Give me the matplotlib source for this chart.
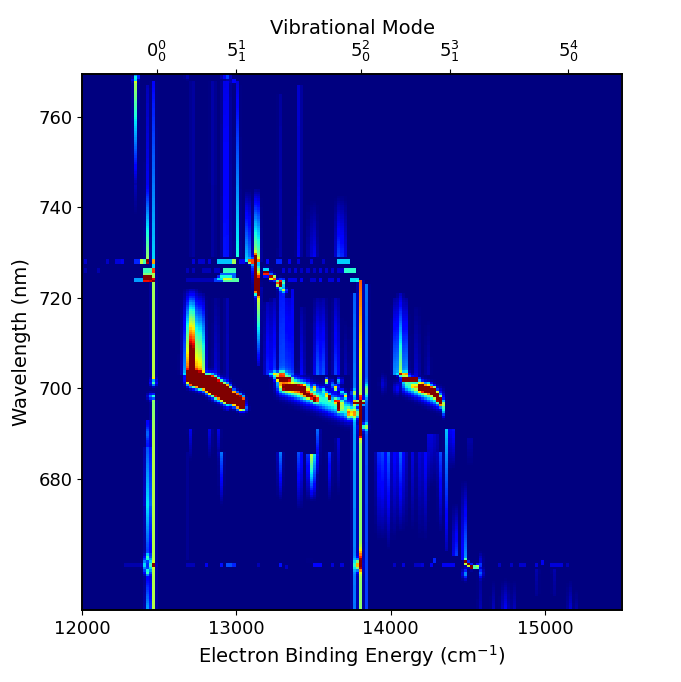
import numpy as np
import matplotlib
matplotlib.use("Agg")
import matplotlib.pyplot as plt

# ---- axes data
x_ticks = [12000, 13000, 14000, 15000]
y_ticks = [680, 700, 720, 740, 760]
mode_pos = [12483, 13001, 13806, 14383, 15150]
mode_labels = [r"$0^{0}_{0}$", r"$5^{1}_{1}$", r"$5^{2}_{0}$", r"$5^{3}_{1}$", r"$5^{4}_{0}$"]

# ---- vertical progressions:
# energy, wavelength low, wavelength high, amplitude at low, amplitude at high, width
bands = [
    # above the 728 nm threshold
    (12345, 745, 768, 0.03, 0.56, 8), (12345, 738, 745, 0.0, 0.05, 8), (12425, 728, 745, 0.55, 0.1, 8),
    (12425, 745, 767, 0.1, 0.05, 8), (12465, 724, 768, 0.36, 0.12, 8), (12717, 729, 768, 0.05, 0.05, 8),
    (12850, 729, 768, 0.03, 0.04, 12), (12925, 729, 768, 0.14, 0.09, 11), (12950, 729, 768, 0.13, 0.09, 9),
    (13005, 729, 745, 0.38, 0.26, 8), (13005, 745, 768, 0.26, 0.08, 8), (13074, 728, 744, 0.55, 0.0, 9),
    (13134, 728, 744, 0.8, 0.02, 12), (13283, 729, 765, 0.04, 0.03, 10), (13413, 729, 767, 0.12, 0.13, 7),
    (13400, 729, 745, 0.05, 0.0, 8), (13478, 729, 742, 0.1, 0.0, 9), (13510, 729, 742, 0.12, 0.0, 9),
    (13660, 729, 743, 0.22, 0.0, 10), (13692, 729, 743, 0.2, 0.0, 10),
    # between threshold and the red diagonals
    (12465, 702, 724, 0.58, 0.54, 8), (12465, 689, 697.5, 0.56, 0.5, 8),
    (12713, 703, 722, 1.55, 0.03, 26), (12775, 703, 721, 0.7, 0.02, 14), (12870, 697, 720, 0.1, 0.02, 14),
    (12940, 695, 720, 0.06, 0.05, 10), (13145, 705, 722.5, 0.05, 0.7, 8), (13205, 703, 719, 0.16, 0.05, 14),
    (13240, 703, 720, 0.2, 0.05, 10), (13295, 703, 722, 0.26, 0.18, 14), (13335, 703, 720, 0.24, 0.1, 11),
    (13362, 703, 722, 0.16, 0.1, 8), (13430, 703, 718, 0.12, 0.03, 11), (13525, 703, 720, 0.22, 0.03, 16),
    (13565, 703, 720, 0.2, 0.03, 14), (13650, 703, 720, 0.2, 0.05, 14), (13710, 703, 716, 0.06, 0.0, 10),
    (13805, 697, 724, 0.55, 0.82, 8), (13845, 693, 723, 0.2, 0.24, 8), (13765, 693, 721, 0.26, 0.22, 9),
    (14030, 703, 720, 0.3, 0.03, 11), (14065, 703, 721, 0.55, 0.05, 13), (14100, 703, 720, 0.32, 0.03, 10),
    (14170, 703, 718, 0.07, 0.01, 12), (14240, 703, 716, 0.05, 0.0, 12),
    # below the diagonals
    (12430, 674, 687, 0.38, 0.22, 13), (12430, 663, 674, 0.18, 0.38, 12), (12430, 651, 659, 0.32, 0.1, 12),
    (12430, 687, 693, 0.16, 0.12, 10), (12465, 650, 689, 0.56, 0.56, 8),
    (12705, 684, 691, 0.0, 0.1, 8), (12830, 684, 691, 0.0, 0.11, 8), (12888, 684, 691, 0.0, 0.1, 8),
    (12905, 674, 686, 0.0, 0.24, 9), (12690, 662, 686, 0.02, 0.02, 8), (13283, 675, 686, 0.0, 0.26, 10),
    (13413, 673, 686, 0.0, 0.28, 10), (13489, 675, 685.5, 0.0, 0.62, 15), (13530, 681, 691, 0.02, 0.3, 7),
    (13607, 675, 686, 0.0, 0.18, 9), (13660, 676, 689, 0.0, 0.1, 8), (13765, 650, 693, 0.24, 0.28, 9),
    (13805, 650, 692, 0.52, 0.52, 8), (13845, 650, 693, 0.18, 0.2, 7), (13925, 666, 686, 0.0, 0.16, 12),
    (13953, 666, 686, 0.0, 0.2, 11), (13985, 664, 686, 0.0, 0.22, 9), (14018, 666, 686, 0.0, 0.18, 8),
    (14061, 668, 686, 0.0, 0.24, 12), (14093, 668, 686, 0.0, 0.13, 9), (14147, 668, 686, 0.0, 0.09, 11),
    (14190, 666, 686, 0.0, 0.09, 10), (14223, 666, 686, 0.0, 0.13, 11), (14255, 678, 690, 0.0, 0.16, 9),
    (14294, 678, 690, 0.0, 0.15, 7), (14325, 668, 686, 0.0, 0.2, 10), (14365, 664, 691, 0.04, 0.32, 7),
    (14396, 682, 691, 0.0, 0.26, 8), (14417, 663, 675, 0.3, 0.0, 8), (14478, 662, 680, 0.38, 0.0, 9),
    (14515, 682, 689, 0.0, 0.1, 7), (14580, 650, 660, 0.06, 0.02, 8), (14743, 650, 658, 0.13, 0.0, 16),
    (14660, 650, 658, 0.08, 0.0, 7), (14800, 650, 658, 0.07, 0.0, 10), (15160, 650, 658, 0.1, 0.0, 10),
    (15200, 650, 656, 0.05, 0.0, 8), (14950, 654, 660, 0.02, 0.05, 8), (15060, 654, 660, 0.02, 0.05, 8),
]

# ---- ridges: energy0, wavelength0, energy1, wavelength1, amplitude, energy width, wavelength width
ridges = [
    (12715, 702.2, 12830, 700.9, 4.0, 19, 0.85), (12830, 700.9, 12940, 698.7, 4.0, 16, 1.05),
    (12940, 698.7, 13030, 696.8, 4.0, 12, 0.75), (13020, 695.9, 13050, 695.6, 0.36, 14, 0.5),
    (13125, 727.5, 13135, 722.5, 3.0, 9, 1.0), (13089, 728, 13125, 728, 0.85, 10, 0.3),
    (13186, 725.6, 13208, 725.6, 1.3, 7, 0.4), (13229, 724.6, 13240, 724.4, 1.3, 6, 0.35),
    (13273, 723.2, 13294, 723.2, 1.6, 7, 0.5), (13295, 722, 13315, 721.6, 0.45, 7, 0.35),
    (13262, 702.2, 13348, 702.2, 1.25, 9, 0.3), (13240, 703.1, 13300, 703.1, 0.5, 12, 0.4),
    (13316, 700.1, 13434, 700.1, 1.1, 10, 0.4), (13290, 701, 13450, 699.8, 0.42, 16, 1.1),
    (13300, 701, 13720, 695.2, 0.4, 26, 1.5), (13440, 699, 13520, 697.5, 0.55, 9, 0.5),
    (13769, 696.8, 13823, 696.8, 1.5, 7, 0.3), (13726, 694.5, 13790, 694.5, 0.45, 9, 0.7),
    (13805, 695.5, 13805, 690.5, 1.0, 7, 0.9), (13800, 691.5, 13850, 691.5, 0.4, 6, 0.5),
    (14083, 702, 14169, 702, 1.3, 8, 0.3), (14060, 703, 14110, 703, 0.5, 8, 0.35),
    (14180, 700.4, 14277, 699.4, 1.35, 8, 0.6), (14277, 699.4, 14335, 696.6, 1.5, 6, 0.5),
    (14100, 701, 14320, 697.5, 0.42, 16, 1.2), (14340, 696, 14350, 694.6, 0.34, 5, 0.6),
    (14482, 661.7, 14525, 660.6, 1.1, 5, 0.3),
]

# ---- isolated spots: energy, wavelength, amplitude, energy width, wavelength width
spots = [
    (12354, 769, 1.0, 6, 0.4), (12340, 768.3, 0.35, 9, 0.3), (12925, 769, 0.12, 15, 0.4),
    (12950, 769, 0.2, 10, 0.4), (12980, 768, 0.2, 8, 0.3), (12680, 769, 0.06, 8, 0.4),
    (12465, 701.3, 0.45, 12, 0.5), (12440, 698.2, 0.28, 9, 0.5), (12465, 698.2, 0.38, 6, 0.4),
    (12430, 690, 0.14, 6, 1.0), (12410, 661, 0.4, 10, 0.9), (12445, 661, 0.4, 9, 0.9),
    (12427, 662.6, 0.42, 11, 0.45), (12427, 659.4, 0.42, 11, 0.45), (12465, 661, 0.7, 8, 0.28),
    (13789, 661, 0.72, 14, 0.8), (13805, 662, 0.35, 8, 1.6), (13475, 662, 0.08, 5, 0.3),
    (14480, 659, 0.32, 9, 0.7), (14592, 659.2, 0.32, 7, 0.7), (14592, 662, 0.15, 6, 0.9),
    (12700, 703.2, 0.45, 9, 0.5), (14040, 700, 0.12, 14, 0.9), (13950, 701, 0.08, 12, 1.2),
    # speckle along the second diagonal
    (13510, 700.1, 0.72, 7, 0.4), (13510, 697.5, 0.55, 7, 0.4), (13478, 698.3, 0.35, 7, 0.5),
    (13586, 701.6, 0.65, 8, 0.4), (13650, 700.1, 0.85, 8, 0.4), (13672, 701.6, 0.5, 7, 0.5),
    (13607, 698, 1.3, 6, 0.35), (13585, 698.6, 0.5, 6, 0.4), (13672, 696.8, 1.5, 7, 0.45),
    (13672, 695.6, 1.5, 6, 0.5), (13650, 697.2, 0.8, 6, 0.4), (13704, 698.3, 0.6, 6, 0.4),
    (13690, 699.2, 0.45, 6, 0.4), (13812, 698, 0.7, 6, 0.35), (13560, 699.5, 0.3, 8, 0.5),
    (13740, 699, 0.25, 6, 0.4), (13765, 699, 0.35, 5, 0.4), (13845, 699.5, 0.3, 5, 1.0),
    (13620, 700.8, 0.3, 8, 0.6), (14210, 701, 0.5, 8, 0.35), (14250, 701, 0.4, 8, 0.3),
    (14150, 700.5, 0.35, 10, 0.4), (14300, 699, 0.4, 6, 0.4),
]

# ---- narrow horizontal streaks: energy0, energy1, wavelength, amplitude
streaks = [
    (12030, 12030, 728, 0.07), (12170, 12170, 728, 0.06), (12235, 12235, 728, 0.08), (12270, 12270, 728, 0.1),
    (12345, 12385, 728, 0.16), (12385, 12405, 728, 0.42), (12425, 12425, 728, 0.95), (12465, 12465, 728, 0.4),
    (12732, 12732, 728, 0.08), (12765, 12785, 728, 0.07), (12825, 12825, 728, 0.08), (12885, 12965, 728, 0.32),
    (12985, 12985, 728, 0.55), (13035, 13035, 728, 0.1),
    (13197, 13197, 728, 0.12), (13272, 13294, 728, 0.16), (13345, 13345, 728, 0.1), (13405, 13405, 728, 0.08),
    (13477, 13477, 728, 0.08), (13564, 13564, 728, 0.06), (13661, 13726, 728, 0.33),
    (12030, 12030, 726, 0.04), (12110, 12110, 726, 0.04), (12400, 12445, 726, 0.42), (12465, 12465, 726, 0.5),
    (12690, 12690, 726, 0.05), (12730, 12730, 726, 0.05), (12790, 12830, 726, 0.05), (12870, 12890, 726, 0.06),
    (12925, 12985, 726, 0.42),
    (13305, 13305, 726, 0.08), (13345, 13345, 726, 0.07), (13385, 13385, 726, 0.08), (13425, 13425, 726, 0.06),
    (13465, 13465, 726, 0.07), (13505, 13505, 726, 0.06), (13545, 13545, 726, 0.08), (13585, 13585, 726, 0.07),
    (13625, 13625, 726, 0.07), (13665, 13685, 726, 0.07), (13715, 13760, 726, 0.4),
    (12405, 12445, 725, 0.5), (12465, 12465, 725, 0.2), (12905, 12985, 725, 0.22),
    (12405, 12445, 724.5, 0.9), (12885, 12965, 724.5, 0.16),
    (12345, 12385, 724, 0.28), (12405, 12445, 724, 0.9), (12465, 12465, 724, 0.55), (12690, 12850, 724, 0.05),
    (12870, 12910, 724, 0.18), (12925, 13005, 724, 0.45),
    (13305, 13305, 724, 0.1), (13345, 13385, 724, 0.09), (13425, 13425, 724, 0.1), (13485, 13505, 724, 0.07),
    (13545, 13545, 724, 0.1), (13605, 13625, 724, 0.08), (13665, 13665, 724, 0.09), (13737, 13780, 724, 0.35),
    (12290, 12380, 661, 0.04), (12680, 12720, 661, 0.05), (12800, 12800, 661, 0.1), (12900, 12900, 661, 0.14),
    (12945, 12965, 661, 0.2), (12985, 12985, 661, 0.16), (13150, 13150, 661, 0.05), (13285, 13285, 661, 0.14),
    (13325, 13325, 660.5, 0.06), (13500, 13540, 661, 0.12), (13620, 13620, 661, 0.08), (13685, 13685, 661, 0.08),
    (14025, 14025, 661, 0.06), (14085, 14085, 661, 0.08), (14165, 14185, 661, 0.06), (14205, 14205, 661, 0.08),
    (14265, 14265, 661, 0.1), (14285, 14285, 662, 0.16), (14345, 14405, 661, 0.1), (14530, 14560, 660.5, 0.45),
    (14560, 14590, 661, 0.12), (14705, 14705, 661, 0.06), (14785, 14785, 661, 0.06), (14845, 14865, 661, 0.07),
    (14945, 14945, 661, 0.08), (14985, 14985, 661.5, 0.1), (15045, 15105, 661, 0.08), (15145, 15145, 661, 0.05),
]

# ---- render
energy = np.arange(12005, 15500, 20.0)
wave = np.arange(651.25, 770, 0.5)
E, W = np.meshgrid(energy, wave)
Z = np.zeros_like(E)


def gx(x0, w):
    return np.exp(-0.5 * ((E - x0) / w) ** 2)


for x0, lo, hi, a0, a1, w in bands:
    t = np.clip((W - lo) / (hi - lo), 0, 1)
    amp = (a0 + (a1 - a0) * t) * ((W >= lo) & (W <= hi))
    Z += amp * gx(x0, w)

for x0, y0, x1, y1, a, wx, wy in ridges:
    part = np.zeros_like(E)
    for t in np.linspace(0, 1, 40):
        xc = x0 + (x1 - x0) * t
        yc = y0 + (y1 - y0) * t
        part = np.maximum(part, a * gx(xc, wx) * np.exp(-0.5 * ((W - yc) / wy) ** 2))
    Z += part

for x0, y0, a, wx, wy in spots:
    Z += a * gx(x0, wx) * np.exp(-0.5 * ((W - y0) / wy) ** 2)

for x0, x1, y0, a in streaks:
    Z += a * ((E >= x0 - 10) & (E <= x1 + 10) & (np.abs(W - y0) <= 0.25))

# ---- figure
plt.rcParams["font.family"] = "DejaVu Sans"
fig = plt.figure(figsize=(6.81, 6.82), dpi=100)
ax = fig.add_axes([82 / 681, 1 - 610 / 682, 540 / 681, 536 / 682])
ax.pcolormesh(energy, wave, Z, cmap="jet", vmin=0, vmax=1, shading="nearest", rasterized=True)
ax.set_xlim(12000, 15500)
ax.set_ylim(651, 769.5)
ax.set_xticks(x_ticks)
ax.set_yticks(y_ticks)
ax.tick_params(labelsize=13)
ax.set_xlabel("Electron Binding Energy (cm$^{-1}$)", fontsize=14)
ax.set_ylabel("Wavelength (nm)", fontsize=14, labelpad=5)
ax2 = ax.twiny()
ax2.set_xlim(12000, 15500)
ax2.set_xticks(mode_pos)
ax2.set_xticklabels(mode_labels, fontsize=13)
ax2.set_xlabel("Vibrational Mode", fontsize=14)
for a_ in (ax, ax2):
    for s in a_.spines.values():
        s.set_linewidth(1.2)
fig.savefig("out.png", dpi=100)
